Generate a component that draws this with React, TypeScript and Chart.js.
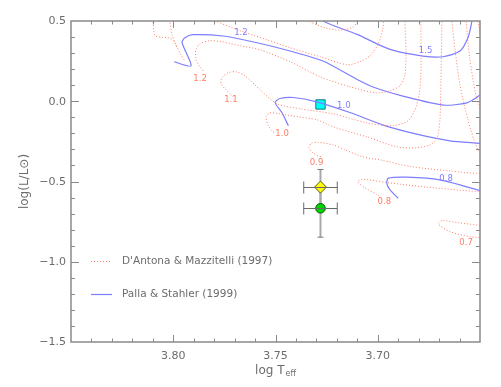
import React, { useEffect, useRef } from 'react';
import { Chart, registerables } from 'chart.js';

Chart.register(...registerables);

type Pt = [number, number];

// ---------- axes ----------
const xRange: Pt = [3.65, 3.85];
const yRange: Pt = [-1.5, 0.5];
const xMajor = [3.8, 3.75, 3.7];
const xMajorLabels = ['3.80', '3.75', '3.70'];
const yMajor = [0.5, 0.0, -0.5, -1.0, -1.5];
const yMajorLabels = ['0.5', '0.0', '\u22120.5', '\u22121.0', '\u22121.5'];
const xMinorStep = 0.01;
const yMinorStep = 0.1;

// ---------- D'Antona & Mazzitelli (1997) tracks (log Teff, log L) ----------
const dm14: Pt[] = [
  [3.7097, 0.5705], [3.7101, 0.4956], [3.7126, 0.4582], [3.7185, 0.4426], [3.7258, 0.4582],
  [3.7331, 0.4956], [3.7405, 0.558], [3.8099, 0.5705], [3.8099, 0.4956], [3.8089, 0.4083],
  [3.8055, 0.3989], [3.8016, 0.3927], [3.7991, 0.3646], [3.7982, 0.3334],
];
const dm13: Pt[] = [
  [3.6974, 0.5705], [3.6974, 0.4582], [3.6999, 0.3522], [3.7038, 0.2835], [3.7087, 0.2461],
  [3.715, 0.2274], [3.7282, 0.2773], [3.7429, 0.3334], [3.7542, 0.3833], [3.7674, 0.4395],
  [3.7796, 0.502], [3.7869, 0.558], [3.8016, 0.558], [3.8016, 0.4956], [3.8006, 0.4145],
  [3.7987, 0.3522], [3.7962, 0.2898], [3.7947, 0.2586],
];
const dm12: Pt[] = [
  [3.6867, 0.5705], [3.6867, 0.4956], [3.6862, 0.321], [3.6867, 0.165], [3.6891, 0.0964],
  [3.694, 0.0652], [3.7013, 0.0527], [3.7136, 0.0902], [3.7282, 0.1525], [3.7429, 0.2461],
  [3.7576, 0.321], [3.7674, 0.3459], [3.7762, 0.3709], [3.782, 0.3771], [3.7869, 0.3584],
  [3.7889, 0.321], [3.7889, 0.2586], [3.7869, 0.2149], [3.785, 0.1837],
];
const dm11: Pt[] = [
  [3.6789, 0.5705], [3.6789, 0.4956], [3.6789, 0.1588], [3.6798, 0.0403], [3.6818, -0.0533],
  [3.6852, -0.1219], [3.6925, -0.1531], [3.7053, -0.1344], [3.7219, -0.0783], [3.738, -0.0471],
  [3.7493, -0.0159], [3.7576, 0.0715], [3.7649, 0.1588], [3.7693, 0.1837], [3.7732, 0.1775],
  [3.7762, 0.1463], [3.7767, 0.1089], [3.7742, 0.0715], [3.7708, 0.0278],
];
const dm10: Pt[] = [
  [3.6686, 0.5705], [3.6686, 0.4956], [3.6691, 0.1338], [3.6696, -0.1157], [3.671, -0.228],
  [3.6744, -0.2717], [3.6818, -0.2904], [3.6906, -0.2842], [3.7053, -0.2218], [3.7219, -0.1594],
  [3.7297, -0.1157], [3.739, -0.097], [3.7478, -0.0783], [3.7527, -0.072], [3.7546, -0.097],
  [3.7537, -0.1469], [3.7517, -0.1843], [3.7498, -0.203],
];
const dm09: Pt[] = [
  [3.6637, 0.5705], [3.6637, 0.4956], [3.6622, 0.321], [3.6598, 0.1026], [3.6559, -0.1157],
  [3.651, -0.3029], [3.6441, -0.4151], [3.65, -0.4482], [3.6647, -0.4339], [3.6828, -0.409],
  [3.6989, -0.3653], [3.7072, -0.3466], [3.716, -0.3029], [3.7219, -0.2717], [3.7292, -0.256],
  [3.7326, -0.2623], [3.7336, -0.2904], [3.7317, -0.3216], [3.7292, -0.3403], [3.7268, -0.3497],
];
const dm08: Pt[] = [
  [3.6568, 0.5705], [3.6568, 0.4956], [3.6549, 0.2586], [3.652, 0.0403], [3.6471, -0.1469],
  [3.6427, -0.3653], [3.6451, -0.5648], [3.651, -0.563], [3.6759, -0.5355], [3.6955, -0.5068],
  [3.7077, -0.4856], [3.7097, -0.5024], [3.7062, -0.5399], [3.7009, -0.5773], [3.6984, -0.596],
];
const dm07: Pt[] = [
  [3.652, 0.5705], [3.651, 0.4956], [3.6481, 0.321], [3.6427, 0.0091], [3.6402, -0.4903],
  [3.6451, -0.7831], [3.65, -0.7738], [3.6598, -0.7582], [3.6687, -0.7439], [3.6704, -0.7645],
  [3.6647, -0.8125], [3.6549, -0.8437], [3.6451, -0.8518],
];

// ---------- Palla & Stahler (1999) tracks ----------
const ps15: Pt[] = [
  [3.7321, 0.5705], [3.7268, 0.5], [3.7101, 0.4164], [3.694, 0.3228], [3.6779, 0.2817],
  [3.6681, 0.2773], [3.6598, 0.3129], [3.6559, 0.3958], [3.6541, 0.4894], [3.6539, 0.539],
];
const ps12: Pt[] = [
  [3.7996, 0.2461], [3.7913, 0.2212], [3.7957, 0.3646], [3.7943, 0.3958], [3.7903, 0.4145],
  [3.7757, 0.4064], [3.759, 0.3646], [3.7429, 0.3129], [3.7268, 0.2505], [3.7101, 0.1357],
  [3.7013, 0.0839], [3.6877, 0.0321], [3.6681, -0.024], [3.6564, -0.0097], [3.65, 0.0384],
  [3.6461, 0.0902],
];
const ps10: Pt[] = [
  [3.7437, -0.1531], [3.7468, -0.072], [3.7502, -0.0078], [3.7478, 0.0172], [3.7413, 0.0234],
  [3.7299, -0.0034], [3.7136, -0.0702], [3.6973, -0.1487], [3.681, -0.2049], [3.6647, -0.2467],
  [3.65, -0.2623], [3.6451, -0.2685],
];
const ps08: Pt[] = [
  [3.69, -0.6041], [3.694, -0.5524], [3.6956, -0.5106], [3.6948, -0.4794], [3.6858, -0.4731],
  [3.6696, -0.49], [3.65, -0.5567], [3.6451, -0.5742],
];

// ---------- track mass labels ----------
const dmMassLabels = ['1.2', '1.1', '1.0', '0.9', '0.8', '0.7'];
const dmLabelX = [3.7869, 3.7718, 3.7468, 3.7299, 3.6968, 3.6568];
const dmLabelY = [0.1401, 0.0091, -0.203, -0.3858, -0.6241, -0.8848];
const psMassLabels = ['1.2', '1.5', '1.0', '0.8'];
const psLabelX = [3.7669, 3.6766, 3.7166, 3.6666];
const psLabelY = [0.427, 0.3166, -0.0284, -0.4837];

// ---------- observed star positions ----------
const starX = [3.728, 3.728, 3.728];
const starY = [-0.02, -0.535, -0.667];
const starXErr = [0, 0.0082, 0.0082];
const starYErrUp = [0, 0.11, 0.117];
const starYErrDown = [0, 0.125, 0.18];

const legendLabels = ["D'Antona & Mazzitelli (1997)", 'Palla & Stahler (1999)'];

const FONT = '"DejaVu Sans", "Liberation Sans", sans-serif';
const RED = '#ff7d66';
const BLUE = '#7d7dff';
const TEXT = '#6c6c6c';
const AXIS = '#8a8a8a';

const toXY = (pts: Pt[]) => pts.map(([x, y]) => ({ x, y }));

const decor = {
  id: 'decor',
  beforeDatasetsDraw(chart: any) {
    const { ctx } = chart;
    const xs = chart.scales.x;
    const ys = chart.scales.y;
    ctx.save();
    for (let i = 0; i < starX.length; i++) {
      if (!starYErrUp[i] && !starYErrDown[i]) continue;
      const px = xs.getPixelForValue(starX[i]);
      const y1 = ys.getPixelForValue(starY[i] + starYErrUp[i]);
      const y2 = ys.getPixelForValue(starY[i] - starYErrDown[i]);
      ctx.strokeStyle = '#a9a9a9';
      ctx.lineWidth = 2;
      ctx.beginPath();
      ctx.moveTo(px, y1);
      ctx.lineTo(px, y2);
      ctx.stroke();
      ctx.strokeStyle = '#7a7a7a';
      ctx.lineWidth = 1;
      ctx.beginPath();
      ctx.moveTo(px - 3, y1);
      ctx.lineTo(px + 3, y1);
      ctx.moveTo(px - 3, y2);
      ctx.lineTo(px + 3, y2);
      ctx.stroke();
    }
    ctx.restore();
  },
  afterDatasetsDraw(chart: any) {
    const { ctx, chartArea } = chart;
    const { left, right, top, bottom } = chartArea;
    const xs = chart.scales.x;
    const ys = chart.scales.y;
    ctx.save();

    // horizontal error bars (drawn over markers)
    ctx.strokeStyle = '#6a6a6a';
    ctx.lineWidth = 1;
    for (let i = 0; i < starX.length; i++) {
      if (!starXErr[i]) continue;
      const py = Math.round(ys.getPixelForValue(starY[i])) + 0.5;
      const x1 = xs.getPixelForValue(starX[i] + starXErr[i]);
      const x2 = xs.getPixelForValue(starX[i] - starXErr[i]);
      ctx.beginPath();
      ctx.moveTo(x1, py);
      ctx.lineTo(x2, py);
      ctx.moveTo(x1, py - 6);
      ctx.lineTo(x1, py + 6);
      ctx.moveTo(x2, py - 6);
      ctx.lineTo(x2, py + 6);
      ctx.stroke();
    }

    // frame
    ctx.strokeStyle = AXIS;
    ctx.lineWidth = 1.5;
    ctx.strokeRect(left, top, right - left, bottom - top);

    // ticks
    ctx.lineWidth = 1;
    const isMajor = (v: number, arr: number[]) => arr.some((m) => Math.abs(m - v) < 1e-6);
    ctx.beginPath();
    const nx = Math.round((xRange[1] - xRange[0]) / xMinorStep);
    for (let k = 1; k < nx; k++) {
      const v = xRange[0] + k * xMinorStep;
      const len = isMajor(v, xMajor) ? 7 : 3.5;
      const px = Math.round(xs.getPixelForValue(v)) + 0.5;
      ctx.moveTo(px, bottom);
      ctx.lineTo(px, bottom - len);
      ctx.moveTo(px, top);
      ctx.lineTo(px, top + len);
    }
    const ny = Math.round((yRange[1] - yRange[0]) / yMinorStep);
    for (let k = 1; k < ny; k++) {
      const v = yRange[0] + k * yMinorStep;
      const len = isMajor(v, yMajor) ? 8 : 4;
      const py = Math.round(ys.getPixelForValue(v)) + 0.5;
      ctx.moveTo(left, py);
      ctx.lineTo(left + len, py);
      ctx.moveTo(right, py);
      ctx.lineTo(right - len, py);
    }
    ctx.stroke();

    // tick labels
    ctx.fillStyle = TEXT;
    ctx.font = `11px ${FONT}`;
    ctx.textAlign = 'center';
    ctx.textBaseline = 'middle';
    xMajor.forEach((v, i) => {
      ctx.fillText(xMajorLabels[i], xs.getPixelForValue(v), bottom + 14);
    });
    ctx.textAlign = 'right';
    yMajor.forEach((v, i) => {
      ctx.fillText(yMajorLabels[i], left - 5, ys.getPixelForValue(v) + 0.5);
    });

    // axis titles
    ctx.font = `12px ${FONT}`;
    ctx.textAlign = 'left';
    ctx.textBaseline = 'middle';
    const main = 'log T';
    ctx.font = `12px ${FONT}`;
    const w1 = ctx.measureText(main).width;
    ctx.font = `8px ${FONT}`;
    const w2 = ctx.measureText('eff').width;
    const cx = (left + right) / 2;
    const sx = cx - (w1 + 1 + w2) / 2;
    ctx.font = `12px ${FONT}`;
    ctx.fillText(main, sx, bottom + 29);
    ctx.font = `8px ${FONT}`;
    ctx.fillText('eff', sx + w1 + 1, bottom + 32);

    ctx.save();
    ctx.translate(25, (top + bottom) / 2);
    ctx.rotate(-Math.PI / 2);
    ctx.textAlign = 'center';
    ctx.font = `12px ${FONT}`;
    ctx.fillText('log(L/L\u2299)', 0, 0);
    ctx.restore();

    // track labels
    ctx.font = `8.5px ${FONT}`;
    ctx.textAlign = 'center';
    ctx.textBaseline = 'middle';
    ctx.fillStyle = RED;
    dmMassLabels.forEach((t, i) => {
      ctx.fillText(t, xs.getPixelForValue(dmLabelX[i]), ys.getPixelForValue(dmLabelY[i]));
    });
    ctx.fillStyle = BLUE;
    psMassLabels.forEach((t, i) => {
      ctx.fillText(t, xs.getPixelForValue(psLabelX[i]), ys.getPixelForValue(psLabelY[i]));
    });

    // legend
    const lx = left + 20;
    const ly1 = 261.5;
    const ly2 = 294.5;
    ctx.lineWidth = 1;
    ctx.strokeStyle = RED;
    ctx.setLineDash([1, 2]);
    ctx.beginPath();
    ctx.moveTo(lx, ly1);
    ctx.lineTo(lx + 21, ly1);
    ctx.stroke();
    ctx.setLineDash([]);
    ctx.strokeStyle = BLUE;
    ctx.lineWidth = 1.2;
    ctx.beginPath();
    ctx.moveTo(lx, ly2);
    ctx.lineTo(lx + 21, ly2);
    ctx.stroke();
    ctx.fillStyle = TEXT;
    ctx.font = `10.5px ${FONT}`;
    ctx.textAlign = 'left';
    ctx.fillText(legendLabels[0], lx + 31, ly1);
    ctx.fillText(legendLabels[1], lx + 31, ly2);

    ctx.restore();
  },
};

export default function App() {
  const ref = useRef<HTMLCanvasElement | null>(null);
  useEffect(() => {
    if (!ref.current) return;
    const dmTracks = [dm14, dm13, dm12, dm11, dm10, dm09, dm08, dm07];
    const psTracks = [ps15, ps12, ps10, ps08];
    const datasets: any[] = [];
    dmTracks.forEach((t, i) =>
      datasets.push({
        label: i === 0 ? legendLabels[0] : '',
        data: toXY(t),
        showLine: true,
        borderColor: RED,
        borderWidth: 1,
        borderDash: [1, 2],
        pointRadius: 0,
        pointHoverRadius: 0,
        tension: 0.25,
        fill: false,
      })
    );
    psTracks.forEach((t, i) =>
      datasets.push({
        label: i === 0 ? legendLabels[1] : '',
        data: toXY(t),
        showLine: true,
        borderColor: BLUE,
        borderWidth: 1.2,
        pointRadius: 0,
        pointHoverRadius: 0,
        tension: 0.25,
        fill: false,
      })
    );
    datasets.push({
      label: 'star A',
      data: [{ x: starX[0], y: starY[0] }],
      pointStyle: 'rect',
      pointRadius: 6.6,
      backgroundColor: '#00ffff',
      borderColor: '#117a7a',
      borderWidth: 1,
    });
    datasets.push({
      label: 'star B',
      data: [{ x: starX[1], y: starY[1] }],
      pointStyle: 'rectRot',
      pointRadius: 6,
      backgroundColor: '#ffff00',
      borderColor: '#5a5a10',
      borderWidth: 1,
    });
    datasets.push({
      label: 'star C',
      data: [{ x: starX[2], y: starY[2] }],
      pointStyle: 'circle',
      pointRadius: 4.8,
      backgroundColor: '#00d400',
      borderColor: '#0a5a0a',
      borderWidth: 1,
    });

    const chart = new Chart(ref.current, {
      type: 'scatter',
      data: { datasets },
      options: {
        responsive: false,
        maintainAspectRatio: false,
        animation: false,
        devicePixelRatio: 1,
        events: [],
        layout: { padding: { left: 71, right: 21, top: 21, bottom: 45 } },
        plugins: {
          legend: { display: false },
          tooltip: { enabled: false },
          title: { display: false },
        },
        scales: {
          x: { type: 'linear', min: xRange[0], max: xRange[1], reverse: true, display: false },
          y: { type: 'linear', min: yRange[0], max: yRange[1], display: false },
        },
      },
      plugins: [decor],
    } as any);
    return () => chart.destroy();
  }, []);

  return (
    <div style={{ position: 'fixed', left: 0, top: 0, width: 501, height: 387, background: '#fff' }}>
      <canvas ref={ref} width={501} height={387} style={{ display: 'block' }} />
    </div>
  );
}
